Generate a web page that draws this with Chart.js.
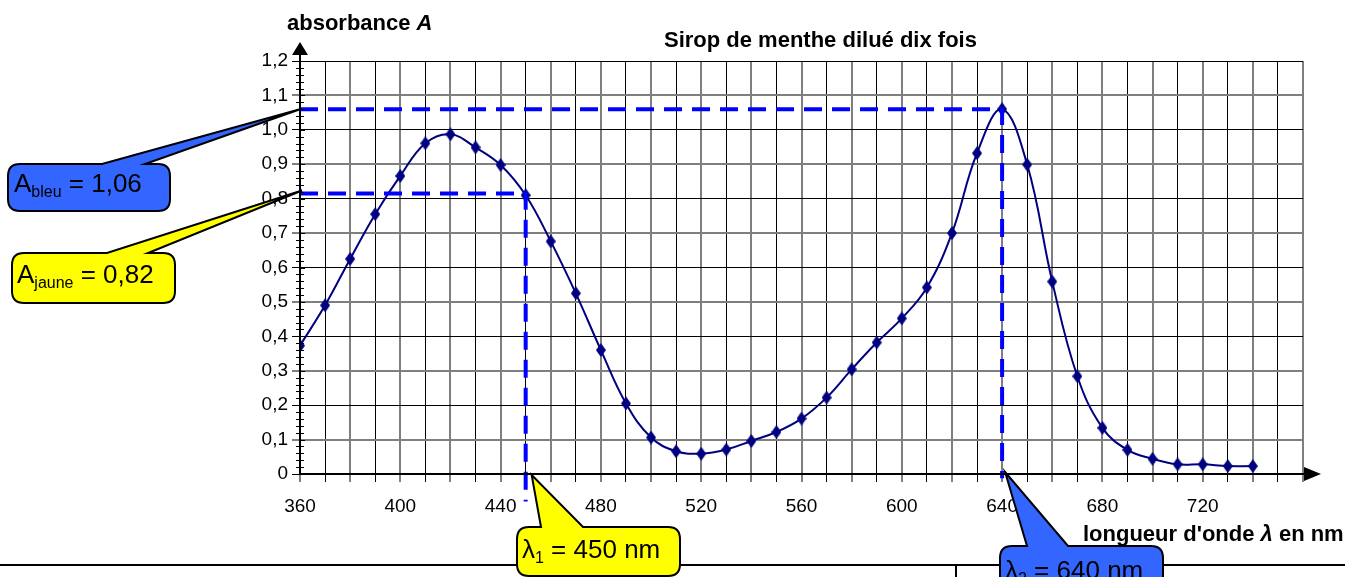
<!DOCTYPE html>
<html>
<head>
<meta charset="utf-8">
<script src="https://cdn.jsdelivr.net/npm/chart.js@4"></script>
<style>
html, body { margin: 0; padding: 0; background: #fff; }
</style>
</head>
<body>
<canvas id="canvas" width="1345" height="577"></canvas>
<script>

// measured spectrum
let wavelengths = [360, 370, 380, 390, 400, 410, 420, 430, 440, 450,
                   460, 470, 480, 490, 500, 510, 520, 530, 540, 550,
                   560, 570, 580, 590, 600, 610, 620, 630, 640, 650,
                   660, 670, 680, 690, 700, 710, 720, 730, 740];
let absorbance = [0.373, 0.49, 0.625, 0.755, 0.866, 0.961, 0.987, 0.949, 0.898, 0.81,
                  0.676, 0.525, 0.36, 0.205, 0.106, 0.066, 0.059, 0.071, 0.096, 0.122,
                  0.161, 0.222, 0.304, 0.382, 0.452, 0.542, 0.70, 0.932, 1.06, 0.899,
                  0.559, 0.284, 0.134, 0.07, 0.044, 0.028, 0.028, 0.023, 0.023];

// reading lines (blue = 640 nm peak, yellow = 450 nm)
let readWavelengths = [640, 450];
let readAbsorbance = [1.06, 0.815];
let readDrop = [-0.012, -0.08];

let xLabelValues = [360, 400, 440, 480, 520, 560, 600, 640, 680, 720];

let font = 'Liberation Sans, Arial, sans-serif';

// diamond marker
let diamond = document.createElement('canvas');
diamond.width = 10;
diamond.height = 14;
let dc = diamond.getContext('2d');
dc.fillStyle = '#000080';
dc.beginPath();
dc.moveTo(5, 0);
dc.lineTo(10, 7);
dc.lineTo(5, 14);
dc.lineTo(0, 7);
dc.closePath();
dc.fill();

let curve = [];
for (let i = 0; i < wavelengths.length; i++) {
    curve.push({x: wavelengths[i], y: absorbance[i]});
}

let datasets = [];
for (let i = 0; i < readWavelengths.length; i++) {
    datasets.push({
        data: [
            {x: 360, y: readAbsorbance[i]},
            {x: readWavelengths[i], y: readAbsorbance[i]},
            {x: readWavelengths[i], y: readDrop[i]}
        ],
        borderColor: '#0000ff',
        borderWidth: 4,
        borderDash: [18, 10],
        pointRadius: 0,
        tension: 0,
        clip: false,
        order: 0
    });
}
datasets.push({
    data: curve,
    borderColor: '#000080',
    borderWidth: 2,
    pointStyle: diamond,
    pointRadius: 5,
    tension: 0.4,
    order: 1
});

function callout(ctx, box, baseL, baseR, tip, fill) {
    let x = box[0], y = box[1], w = box[2], h = box[3], r = 12;
    ctx.beginPath();
    ctx.moveTo(x + r, y);
    ctx.lineTo(baseL, y);
    ctx.lineTo(tip[0], tip[1]);
    ctx.lineTo(baseR, y);
    ctx.lineTo(x + w - r, y);
    ctx.quadraticCurveTo(x + w, y, x + w, y + r);
    ctx.lineTo(x + w, y + h - r);
    ctx.quadraticCurveTo(x + w, y + h, x + w - r, y + h);
    ctx.lineTo(x + r, y + h);
    ctx.quadraticCurveTo(x, y + h, x, y + h - r);
    ctx.lineTo(x, y + r);
    ctx.quadraticCurveTo(x, y, x + r, y);
    ctx.closePath();
    ctx.fillStyle = fill;
    ctx.fill();
    ctx.lineWidth = 2;
    ctx.strokeStyle = '#000';
    ctx.stroke();
}

function subText(ctx, x, y, main, sub, rest) {
    ctx.fillStyle = '#000';
    ctx.textAlign = 'left';
    ctx.textBaseline = 'alphabetic';
    ctx.font = '26px ' + font;
    ctx.fillText(main, x, y);
    x += ctx.measureText(main).width;
    ctx.font = '16px ' + font;
    ctx.fillText(sub, x, y + 5);
    x += ctx.measureText(sub).width;
    ctx.font = '26px ' + font;
    ctx.fillText(rest, x, y);
}

let decorations = {
    id: 'decorations',
    afterDraw: function(chart) {
        let ctx = chart.ctx;
        let xs = chart.scales.x, ys = chart.scales.y;
        let x0 = xs.getPixelForValue(360), y0 = ys.getPixelForValue(0);
        ctx.save();

        // axes with arrows
        ctx.strokeStyle = '#000';
        ctx.fillStyle = '#000';
        ctx.lineWidth = 2;
        ctx.beginPath();
        ctx.moveTo(x0, y0);
        ctx.lineTo(x0, 54);
        ctx.moveTo(x0, y0);
        ctx.lineTo(1306, y0);
        ctx.stroke();
        ctx.beginPath();
        ctx.moveTo(x0, 42);
        ctx.lineTo(x0 - 8, 55);
        ctx.lineTo(x0 + 8, 55);
        ctx.closePath();
        ctx.fill();
        ctx.beginPath();
        ctx.moveTo(1321, y0);
        ctx.lineTo(1304, y0 - 7);
        ctx.lineTo(1304, y0 + 7);
        ctx.closePath();
        ctx.fill();

        // minor ticks on the y axis
        ctx.lineWidth = 1;
        ctx.beginPath();
        for (let k = 0; k <= 60; k++) {
            let py = Math.round(ys.getPixelForValue(k * 0.02)) + 0.5;
            if (k % 5 === 0) {
                ctx.moveTo(x0, py);
                ctx.lineTo(x0 + 5, py);
            } else {
                ctx.moveTo(x0 - 4, py);
                ctx.lineTo(x0 + 4, py);
            }
        }
        ctx.stroke();

        // titles
        ctx.textBaseline = 'alphabetic';
        ctx.textAlign = 'left';
        ctx.font = 'bold 22px ' + font;
        ctx.fillText('Sirop de menthe dilué dix fois', 664, 47);
        ctx.fillText('absorbance ', 287, 30);
        let w = ctx.measureText('absorbance ').width;
        ctx.font = 'italic bold 22px ' + font;
        ctx.fillText('A', 287 + w, 30);

        let lx = 1083;
        ctx.font = 'bold 22px ' + font;
        ctx.fillText("longueur d'onde ", lx, 541);
        lx += ctx.measureText("longueur d'onde ").width;
        ctx.font = 'italic bold 22px ' + font;
        ctx.fillText('λ', lx, 541);
        lx += ctx.measureText('λ').width;
        ctx.font = 'bold 22px ' + font;
        ctx.fillText(' en nm', lx, 541);

        // page frame lines at the bottom
        ctx.lineWidth = 2;
        ctx.beginPath();
        ctx.moveTo(0, 565);
        ctx.lineTo(1345, 565);
        ctx.moveTo(956, 565);
        ctx.lineTo(956, 577);
        ctx.stroke();

        // callouts
        let tipBleu = [x0, ys.getPixelForValue(readAbsorbance[0])];
        let tipJaune = [x0 + 2, ys.getPixelForValue(readAbsorbance[1]) - 3];
        let tipL1 = [xs.getPixelForValue(readWavelengths[1]) + 6, y0 + 1];
        let tipL2 = [xs.getPixelForValue(readWavelengths[0]) + 3, y0 - 2];

        callout(ctx, [8, 164, 162, 47], 102, 145, tipBleu, '#3366ff');
        subText(ctx, 14, 192, 'A', 'bleu', ' = 1,06');

        callout(ctx, [12, 253, 163, 50], 107, 148, tipJaune, '#ffff00');
        subText(ctx, 17, 283, 'A', 'jaune', ' = 0,82');

        callout(ctx, [517, 527, 163, 49], 541, 583, tipL1, '#ffff00');
        subText(ctx, 522, 558, 'λ', '1', ' = 450 nm');

        callout(ctx, [1000, 546, 163, 50], 1027, 1068, tipL2, '#3366ff');
        subText(ctx, 1005, 579, 'λ', '2', ' = 640 nm');

        ctx.restore();
    }
};

let options = {
    type: 'line',
    data: { datasets: datasets },
    options: {
        responsive: false,
        animation: false,
        devicePixelRatio: 1,
        layout: { padding: { top: 61, right: 42, left: 0, bottom: 0 } },
        plugins: {
            legend: { display: false },
            tooltip: { enabled: false },
            title: { display: false }
        },
        scales: {
            x: {
                type: 'linear',
                min: 360,
                max: 760,
                afterFit: function(s) { s.height = 103; },
                ticks: {
                    stepSize: 10,
                    autoSkip: false,
                    maxRotation: 0,
                    color: '#000',
                    padding: 13,
                    font: { family: font, size: 19 },
                    callback: function(v) {
                        return xLabelValues.indexOf(v) >= 0 ? String(v) : '';
                    }
                },
                grid: {
                    color: function(c) {
                        let v = c.tick ? c.tick.value : 0;
                        return v % 20 === 10 ? '#000' : '#7f7f7f';
                    },
                    lineWidth: function(c) {
                        let v = c.tick ? c.tick.value : 0;
                        return v % 20 === 10 ? 1 : 2;
                    },
                    tickLength: 8,
                    tickColor: '#000',
                    tickWidth: 1
                },
                border: { color: '#000', width: 2 }
            },
            y: {
                min: 0,
                max: 1.2,
                afterFit: function(s) { s.width = 300; },
                ticks: {
                    stepSize: 0.1,
                    color: '#000',
                    padding: 4,
                    font: { family: font, size: 19 },
                    callback: function(v) {
                        return v === 0 ? '0' : v.toFixed(1).replace('.', ',');
                    }
                },
                grid: {
                    color: function(c) {
                        let v = c.tick ? Math.round(c.tick.value * 10) : 0;
                        return v % 2 === 0 ? '#000' : '#7f7f7f';
                    },
                    lineWidth: function(c) {
                        let v = c.tick ? Math.round(c.tick.value * 10) : 0;
                        return v % 2 === 0 ? 1 : 2;
                    },
                    tickLength: 8,
                    tickColor: '#000',
                    tickWidth: 1
                },
                border: { color: '#000', width: 2 }
            }
        }
    },
    plugins: [decorations]
};

let chart = new Chart(document.getElementById('canvas'), options);

</script>
</body>
</html>
